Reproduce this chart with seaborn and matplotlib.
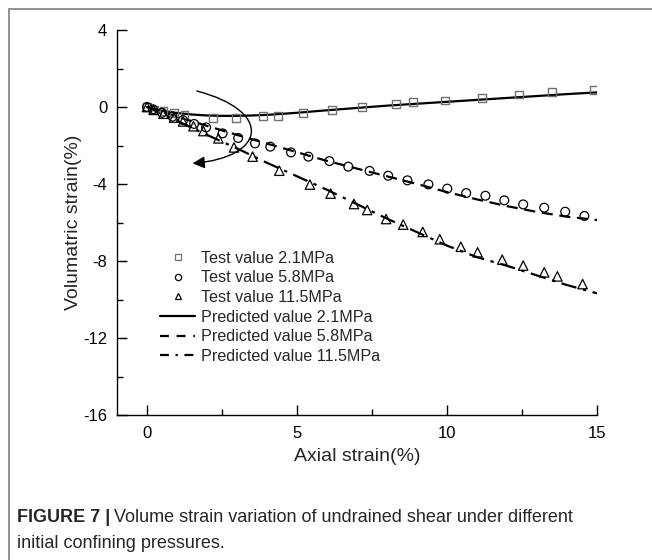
import matplotlib
matplotlib.use("Agg")
import matplotlib.pyplot as plt
import seaborn as sns
import numpy as np
from matplotlib.lines import Line2D
from matplotlib.patches import FancyArrowPatch
from matplotlib.path import Path

sns.set_style("ticks")
plt.rcParams['font.family'] = ['Liberation Sans', 'DejaVu Sans']
plt.rcParams['axes.unicode_minus'] = False

# ---- data: test values ----
test21_x = [0, 0.25, 0.55, 0.9, 1.25, 2.21, 2.97, 3.86, 4.37, 5.19, 6.16, 7.16, 8.3, 8.87, 9.94, 11.16, 12.41, 13.49, 14.9]
test21_y = [0, -0.12, -0.22, -0.3, -0.38, -0.56, -0.56, -0.47, -0.47, -0.31, -0.16, 0.0, 0.16, 0.26, 0.33, 0.47, 0.64, 0.78, 0.88]

test58_x = [0, 0.2, 0.5, 0.85, 1.2, 1.57, 1.97, 2.52, 3.04, 3.6, 4.11, 4.8, 5.38, 6.08, 6.71, 7.42, 8.04, 8.68, 9.38, 10.01, 10.64, 11.28, 11.91, 12.54, 13.24, 13.94, 14.58]
test58_y = [0, -0.12, -0.3, -0.5, -0.68, -0.88, -1.06, -1.37, -1.61, -1.89, -2.06, -2.36, -2.58, -2.81, -3.1, -3.32, -3.57, -3.81, -4.02, -4.24, -4.47, -4.61, -4.85, -5.06, -5.23, -5.44, -5.66]

test115_x = [0, 0.22, 0.55, 0.9, 1.2, 1.55, 1.88, 2.38, 2.9, 3.52, 4.41, 5.43, 6.12, 6.9, 7.34, 7.97, 8.54, 9.19, 9.76, 10.46, 11.02, 11.84, 12.54, 13.24, 13.68, 14.52]
test115_y = [0, -0.15, -0.35, -0.55, -0.75, -1.0, -1.25, -1.63, -2.1, -2.58, -3.31, -4.03, -4.5, -5.04, -5.35, -5.82, -6.11, -6.49, -6.87, -7.26, -7.55, -7.93, -8.24, -8.59, -8.8, -9.2]

# ---- data: predicted curves ----
pred21_x = [0, 0.5, 1, 1.5, 2, 2.5, 3, 3.5, 4, 5, 6, 7, 8, 9, 10, 11, 12, 13, 14, 15]
pred21_y = [0, -0.2, -0.31, -0.39, -0.44, -0.46, -0.46, -0.44, -0.41, -0.3, -0.17, -0.05, 0.07, 0.17, 0.27, 0.37, 0.47, 0.57, 0.67, 0.76]

pred58_x = [0, 1, 2, 3, 4, 5, 6, 7, 8, 9, 10, 11, 12, 13, 14, 15]
pred58_y = [0, -0.5, -0.98, -1.45, -1.9, -2.35, -2.8, -3.2, -3.6, -4.0, -4.42, -4.8, -5.15, -5.45, -5.7, -5.87]

pred115_x = [0, 1, 2, 3, 4, 5, 6, 7, 8, 9, 10, 11, 12, 13, 14, 15]
pred115_y = [0, -0.72, -1.45, -2.15, -2.9, -3.6, -4.3, -5.05, -5.8, -6.5, -7.2, -7.8, -8.25, -8.75, -9.25, -9.68]

labels = ["Test value 2.1MPa", "Test value 5.8MPa", "Test value 11.5MPa",
          "Predicted value 2.1MPa", "Predicted value 5.8MPa", "Predicted value 11.5MPa"]

x_ticks = [0, 5, 10, 15]
y_ticks = [4, 0, -4, -8, -12, -16]

fig = plt.figure(figsize=(6.52, 5.6), dpi=100)
ax = fig.add_axes([117/652, 1-415/560, (597-117)/652, (415-30)/560])

dash58 = (0, (5, 3))
dash115 = (0, (7, 3, 1.5, 3))

sns.lineplot(x=pred21_x, y=pred21_y, ax=ax, color='black', linewidth=1.6, sort=False)
sns.lineplot(x=pred58_x, y=pred58_y, ax=ax, color='black', linewidth=1.6, linestyle=dash58, sort=False)
sns.lineplot(x=pred115_x, y=pred115_y, ax=ax, color='black', linewidth=1.6, linestyle=dash115, sort=False)

sns.scatterplot(x=test21_x, y=test21_y, ax=ax, marker='s', s=30, facecolor='none', edgecolor='#707070', linewidth=1.0, zorder=3)
sns.scatterplot(x=test58_x, y=test58_y, ax=ax, marker='o', s=40, facecolor='none', edgecolor='black', linewidth=0.9, zorder=3)
sns.scatterplot(x=test115_x, y=test115_y, ax=ax, marker='^', s=46, facecolor='none', edgecolor='black', linewidth=0.9, zorder=3)

ax.set_xlim(-1, 15)
ax.set_ylim(-16, 4)
ax.set_xticks(x_ticks)
ax.set_yticks(y_ticks)
ax.set_xticks([2.5, 7.5, 12.5], minor=True)
ax.set_yticks([2, -2, -6, -10, -14], minor=True)
ax.tick_params(which='major', direction='in', length=7, width=1, labelsize=12, colors='black')
ax.tick_params(which='minor', direction='in', length=4, width=1, colors='black')
ax.tick_params(axis='x', pad=8)
ax.tick_params(axis='y', pad=7)
for s in ['top', 'right']:
    ax.spines[s].set_visible(False)
for s in ['left', 'bottom']:
    ax.spines[s].set_color('black')
    ax.spines[s].set_linewidth(1.0)

ax.set_xlabel("Axial strain(%)", fontsize=14, labelpad=5)
ax.set_ylabel("Volumatric strain(%)", fontsize=14, labelpad=1)

# curved arrow annotation
verts = [(1.66, 0.83), (4.2, -0.2), (4.0, -2.6), (1.52, -2.93)]
codes = [Path.MOVETO, Path.CURVE4, Path.CURVE4, Path.CURVE4]
arrow = FancyArrowPatch(path=Path(verts, codes), arrowstyle='-|>', mutation_scale=18,
                        color='black', linewidth=1.0, transform=ax.transData)
ax.add_patch(arrow)

# legend
handles = [
    Line2D([], [], linestyle='none', marker='s', markersize=4, markerfacecolor='none', markeredgecolor='#707070', markeredgewidth=0.9),
    Line2D([], [], linestyle='none', marker='o', markersize=4.5, markerfacecolor='none', markeredgecolor='black', markeredgewidth=0.9),
    Line2D([], [], linestyle='none', marker='^', markersize=5, markerfacecolor='none', markeredgecolor='black', markeredgewidth=0.9),
    Line2D([], [], color='black', linewidth=1.6),
    Line2D([], [], color='black', linewidth=1.6, linestyle=(0, (4, 3.5))),
    Line2D([], [], color='black', linewidth=1.6, linestyle=(0, (4, 3, 1, 3))),
]
ax.legend(handles, labels, loc='upper left', bbox_to_anchor=(0.0896, 0.427), frameon=False,
          fontsize=11.6, handlelength=2.2, handletextpad=0.35, labelspacing=0.29,
          borderaxespad=0, borderpad=0)

# caption
cap_font = ['Liberation Sans Narrow', 'Liberation Sans']
fig.text(17/652, 1-517/560, "FIGURE 7 |", fontsize=13, fontweight='bold', va='center', ha='left', family=cap_font)
fig.canvas.draw()
r = fig.canvas.get_renderer()
bb = fig.texts[0].get_window_extent(r)
fig.text((bb.x1 + 4)/652, 1-517/560, "Volume strain variation of undrained shear under different",
         fontsize=13, va='center', ha='left', family=cap_font)
fig.text(17/652, 1-543/560, "initial confining pressures.",
         fontsize=13, va='center', ha='left', family=cap_font)

# page frame (left and top edges)
fig.add_artist(Line2D([9/652, 9/652], [0, 1-8.5/560], transform=fig.transFigure, color='#8a8a8a', linewidth=1.3))
fig.add_artist(Line2D([9/652, 1], [1-8.5/560, 1-8.5/560], transform=fig.transFigure, color='#8a8a8a', linewidth=1.3))

fig.savefig("out.png", dpi=100)
